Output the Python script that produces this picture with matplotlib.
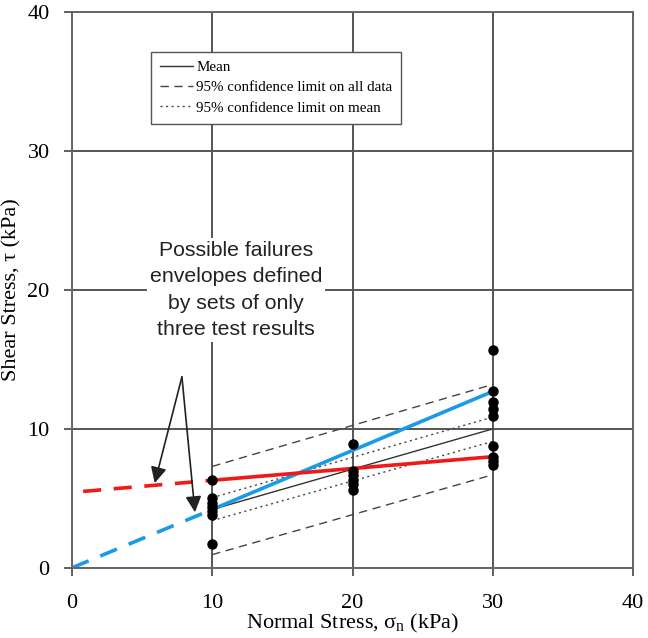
import matplotlib.pyplot as plt

# test results (normal stress, shear stress) in kPa
sn_10 = [6.3, 5.0, 4.7, 4.4, 4.1, 3.8, 1.7]
sn_20 = [8.9, 7.0, 6.7, 6.3, 6.0, 5.6]
sn_30 = [15.7, 12.7, 11.9, 11.4, 10.9, 8.8, 8.0, 7.7, 7.4]

# fitted lines, values at sigma_n = 10 and 30
fit_x = [10, 30]
mean_y = [4.2, 10.0]
all_upper = [7.3, 13.2]
all_lower = [0.95, 6.7]
mean_upper = [5.05, 10.85]
mean_lower = [3.4, 9.1]

# two envelopes from three tests each
blue_x = [10, 30]
blue_y = [4.2, 12.7]
blue_ext_x = [0, 10]
blue_ext_y = [0, 4.2]
red_x = [10, 30]
red_y = [6.3, 8.0]
red_ext_x = [0.8, 10]
red_ext_y = [5.5, 6.3]

serif = 'Liberation Serif'
plt.rcParams['mathtext.fontset'] = 'custom'
plt.rcParams['mathtext.rm'] = serif
plt.rcParams['mathtext.it'] = serif + ':italic'

fig = plt.figure(figsize=(6.48, 6.38), dpi=100)
ax = fig.add_axes([0.111, 0.11, 0.866, 0.871])

ax.grid(True, color='#555555', lw=1.4)
ax.set_axisbelow(True)

ax.plot(fit_x, mean_y, color='#333333', lw=1.0, label='Mean')
ax.plot(fit_x, all_upper, color='#444444', lw=1.0, ls=(0, (6, 4)),
        label='95% confidence limit on all data')
ax.plot(fit_x, all_lower, color='#444444', lw=1.0, ls=(0, (6, 4)))
ax.plot(fit_x, mean_upper, color='#444444', lw=1.0, ls=(0, (1.5, 2.5)),
        label='95% confidence limit on mean')
ax.plot(fit_x, mean_lower, color='#444444', lw=1.0, ls=(0, (1.5, 2.5)))

ax.plot(blue_x, blue_y, color='#1b9be6', lw=2.6)
ax.plot(blue_ext_x, blue_ext_y, color='#1b9be6', lw=2.6, ls=(0, (5, 3.5)))
ax.plot(red_x, red_y, color='#f01818', lw=2.6)
ax.plot(red_ext_x, red_ext_y, color='#f01818', lw=2.6, ls=(0, (5, 3.5)))

for xv, ys in [(10, sn_10), (20, sn_20), (30, sn_30)]:
    ax.plot([xv] * len(ys), ys, 'o', color='black', ms=6.5, zorder=5)

ax.set_xlim(0, 40)
ax.set_ylim(0, 40)
ax.set_xticks([0, 10, 20, 30, 40])
ax.set_yticks([0, 10, 20, 30, 40])
ax.tick_params(direction='out', length=6, width=1.2, color='#444444',
               labelsize=16)
ax.tick_params(axis='x', pad=13)
ax.tick_params(axis='y', pad=10)
for lab in ax.get_xticklabels() + ax.get_yticklabels():
    lab.set_fontfamily(serif)
for s in ax.spines.values():
    s.set_color('#666666')
    s.set_linewidth(1.4)

ax.set_xlabel('Normal Stress, σ$_\\mathrm{n}$ (kPa)', fontsize=16,
              family=serif)
ax.xaxis.set_label_coords(0.5, -0.08)
ax.set_ylabel('Shear Stress, τ (kPa)', fontsize=16, family=serif,
              labelpad=4)

leg = ax.legend(loc='upper left', bbox_to_anchor=(0.141, 0.929),
                prop={'family': serif, 'size': 10.8}, frameon=True,
                fancybox=False, edgecolor='#555555', framealpha=1,
                handlelength=2.2, handletextpad=0.2, borderpad=0.6,
                labelspacing=0.45, borderaxespad=0)
leg.get_frame().set_linewidth(1.0)

txt = 'Possible failures\nenvelopes defined\nby sets of only\nthree test results'
ax.text(11.7, 20.0, txt, ha='center', va='center', fontsize=15.3,
        family='Liberation Sans', color='#222222', linespacing=1.5,
        bbox=dict(facecolor='white', edgecolor='none', pad=2), zorder=6)

arrow_start = (7.84, 13.74)
for tip in [(5.9, 6.1), (8.77, 4.0)]:
    ax.annotate('', xy=tip, xytext=arrow_start,
                arrowprops=dict(arrowstyle='-|>', color='#222222', lw=1.2,
                                mutation_scale=24, shrinkA=0, shrinkB=0),
                zorder=7)

fig.savefig('out.png', dpi=100)
